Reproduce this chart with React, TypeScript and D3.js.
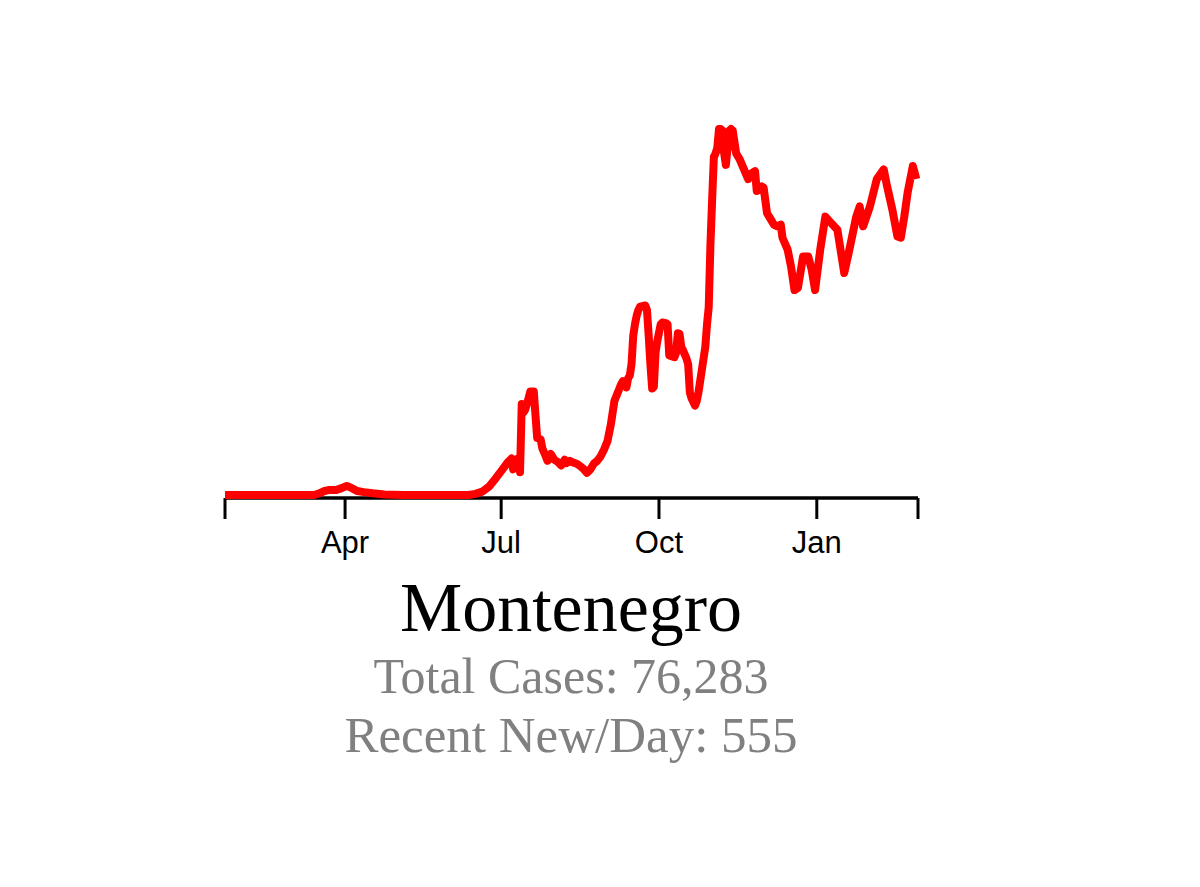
import React from "react";
import * as d3 from "d3";

const dates: string[] = [
  "2020-01-22","2020-03-14","2020-03-17","2020-03-20","2020-03-23","2020-03-27","2020-03-30","2020-04-02","2020-04-05","2020-04-08",
  "2020-04-12","2020-04-17","2020-04-24","2020-05-05","2020-06-12","2020-06-16","2020-06-20","2020-06-24","2020-06-28","2020-07-02",
  "2020-07-05","2020-07-07","2020-07-08","2020-07-09","2020-07-11","2020-07-12","2020-07-13","2020-07-14","2020-07-15","2020-07-17",
  "2020-07-18","2020-07-20","2020-07-21","2020-07-22","2020-07-24","2020-07-25","2020-07-27","2020-07-28","2020-07-30","2020-08-01",
  "2020-08-03","2020-08-05","2020-08-07","2020-08-08","2020-08-10","2020-08-12","2020-08-14","2020-08-16","2020-08-18","2020-08-20",
  "2020-08-22","2020-08-24","2020-08-26","2020-08-28","2020-08-30","2020-09-01","2020-09-03","2020-09-05","2020-09-07","2020-09-09",
  "2020-09-10","2020-09-12","2020-09-13","2020-09-14","2020-09-15","2020-09-16","2020-09-17","2020-09-18","2020-09-19","2020-09-20",
  "2020-09-23","2020-09-24","2020-09-25","2020-09-26","2020-09-27","2020-09-28","2020-09-29","2020-09-30","2020-10-02","2020-10-03",
  "2020-10-05","2020-10-06","2020-10-07","2020-10-10","2020-10-11","2020-10-12","2020-10-13","2020-10-14","2020-10-15","2020-10-17",
  "2020-10-18","2020-10-19","2020-10-20","2020-10-22","2020-10-23","2020-10-24","2020-10-26","2020-10-28","2020-10-29","2020-10-30",
  "2020-10-31","2020-11-01","2020-11-02","2020-11-03","2020-11-04","2020-11-05","2020-11-06","2020-11-07","2020-11-08","2020-11-09",
  "2020-11-10","2020-11-11","2020-11-12","2020-11-13","2020-11-14","2020-11-15","2020-11-17","2020-11-19","2020-11-22","2020-11-24",
  "2020-11-26","2020-11-27","2020-11-30","2020-12-01","2020-12-03","2020-12-05","2020-12-07","2020-12-09","2020-12-11","2020-12-12",
  "2020-12-15","2020-12-17","2020-12-19","2020-12-21","2020-12-24","2020-12-27","2020-12-29","2020-12-31","2021-01-03","2021-01-06",
  "2021-01-09","2021-01-13","2021-01-17","2021-01-20","2021-01-24","2021-01-26","2021-01-28","2021-02-01","2021-02-05","2021-02-09",
  "2021-02-11","2021-02-14","2021-02-17","2021-02-19","2021-02-21","2021-02-23","2021-02-26","2021-02-28"
];

const newPerDay: number[] = [
  0,0,3,7,9,9,12,16,12,7,
  5,3,1,0,0,2,6,15,30,46,
  58,64,45,62,64,40,160,145,150,170,
  182,182,140,100,98,82,68,60,72,62,
  58,52,62,56,60,57,55,51,46,39,
  45,55,60,68,80,95,125,165,180,195,
  200,189,205,210,230,280,300,315,325,331,
  333,325,280,230,187,190,250,270,300,303,
  302,300,245,242,250,284,283,260,254,240,
  230,180,170,157,165,180,220,260,300,330,
  440,520,594,600,610,643,643,640,600,580,
  610,640,643,640,620,600,590,576,555,565,
  569,534,542,540,495,485,475,472,475,452,
  431,401,360,364,419,419,396,360,431,489,
  479,466,390,431,489,507,472,507,555,572,
  542,502,454,452,489,532,578,555
];

const tickDates: string[] = ["2020-04-01", "2020-07-01", "2020-10-01", "2021-01-01"];
const tickLabels: string[] = ["Apr", "Jul", "Oct", "Jan"];
const domainStart = "2020-01-22";
const domainEnd = "2021-03-01";

const countryName = "Montenegro";
const totalCases = 76283;
const recentNewPerDay = 555;

export default function App() {
  const parse = d3.utcParse("%Y-%m-%d");
  const x = d3
    .scaleUtc()
    .domain([parse(domainStart) as Date, parse(domainEnd) as Date])
    .range([225, 918]);
  const y = d3.scaleLinear().domain([0, 650]).range([495, 125]);

  const pts = dates.map((d, i) => ({ date: parse(d) as Date, v: newPerDay[i] }));
  const line = d3
    .line<{ date: Date; v: number }>()
    .x((p) => x(p.date))
    .y((p) => y(p.v));

  const axisY = 498;
  const endTicks = [parse(domainStart) as Date, parse(domainEnd) as Date];
  const fmt = d3.format(",");

  return (
    <svg
      width={1200}
      height={887}
      style={{ position: "absolute", left: 0, top: 0, background: "#ffffff" }}
    >
      <rect x={0} y={0} width={1200} height={887} fill="#ffffff" />
      <g>
        <line x1={x.range()[0]} x2={x.range()[1]} y1={axisY} y2={axisY} stroke="#000" strokeWidth={3.5} />
        {endTicks.map((d, i) => (
          <line key={"e" + i} x1={x(d)} x2={x(d)} y1={axisY} y2={axisY + 21} stroke="#000" strokeWidth={3} />
        ))}
        {tickDates.map((d, i) => {
          const xx = x(parse(d) as Date);
          return (
            <g key={d}>
              <line x1={xx} x2={xx} y1={axisY} y2={axisY + 21} stroke="#000" strokeWidth={3} />
              <text
                x={xx}
                y={553}
                textAnchor="middle"
                fontFamily="'Liberation Sans', Arial, sans-serif"
                fontSize={31}
                fill="#000"
              >
                {tickLabels[i]}
              </text>
            </g>
          );
        })}
      </g>
      <path
        d={line(pts) || ""}
        fill="none"
        stroke="#ff0000"
        strokeWidth={8}
        strokeLinejoin="round"
        strokeLinecap="butt"
      />
      <text x={571} y={631} textAnchor="middle" fontFamily="'Liberation Serif', 'Times New Roman', serif" fontSize={70} fill="#000">
        {countryName}
      </text>
      <text x={571} y={693} textAnchor="middle" fontFamily="'Liberation Serif', 'Times New Roman', serif" fontSize={50} fill="#808080">
        {`Total Cases: ${fmt(totalCases)}`}
      </text>
      <text x={571} y={752} textAnchor="middle" fontFamily="'Liberation Serif', 'Times New Roman', serif" fontSize={51} fill="#808080">
        {`Recent New/Day: ${recentNewPerDay}`}
      </text>
    </svg>
  );
}
